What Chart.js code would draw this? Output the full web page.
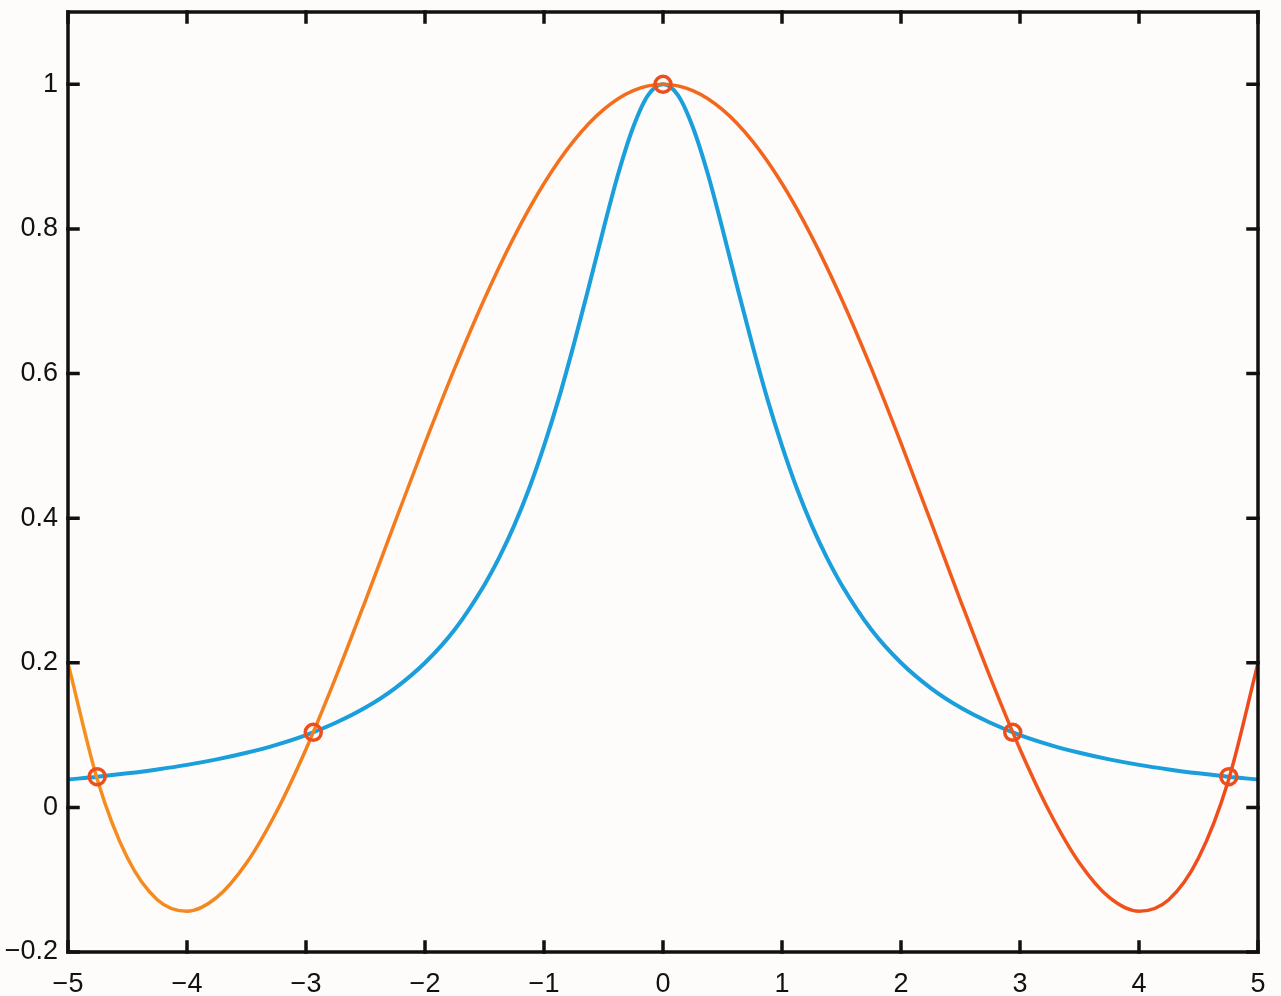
<!DOCTYPE html>
<html>
<head>
<meta charset="utf-8">
<script src="https://cdn.jsdelivr.net/npm/chart.js@4.4.1/dist/chart.umd.min.js"></script>
<style>
  html, body { margin: 0; padding: 0; background: #fdfcfa; }
  #wrap { width: 1281px; height: 996px; }
</style>
</head>
<body>
<div id="wrap"><canvas id="chart" width="1281" height="996"></canvas></div>
<script>
// sample positions along x for the orange curve
const xs = [-5, -4.75, -4.5, -4.25, -4, -3.75, -3.5, -3.25, -3, -2.75, -2.5, -2.25, -2, -1.75, -1.5, -1.25, -1, -0.75, -0.5, -0.25,
  0, 0.25, 0.5, 0.75, 1, 1.25, 1.5, 1.75, 2, 2.25, 2.5, 2.75, 3, 3.25, 3.5, 3.75, 4, 4.25, 4.5, 4.75, 5];

// orange curve
const orangeVals = [0.1995, 0.0365, -0.0701, -0.1277, -0.1437, -0.1246, -0.0770, -0.0067, 0.0805, 0.1797, 0.2861, 0.3954, 0.5037, 0.6074, 0.7035, 0.7894, 0.8628, 0.9217, 0.9649, 0.9912,
  1, 0.9912, 0.9649, 0.9217, 0.8628, 0.7894, 0.7035, 0.6074, 0.5037, 0.3954, 0.2861, 0.1797, 0.0805, -0.0067, -0.0770, -0.1246, -0.1437, -0.1277, -0.0701, 0.0365, 0.1995];

// blue curve, denser around the peak
const blueX = [-5, -4.75, -4.5, -4.25, -4, -3.75, -3.5, -3.25, -3, -2.75, -2.5, -2.25, -2, -1.75, -1.5, -1.375, -1.25, -1.125, -1, -0.875, -0.75, -0.625, -0.5, -0.375, -0.25, -0.125,
  0, 0.125, 0.25, 0.375, 0.5, 0.625, 0.75, 0.875, 1, 1.125, 1.25, 1.375, 1.5, 1.75, 2, 2.25, 2.5, 2.75, 3, 3.25, 3.5, 3.75, 4, 4.25, 4.5, 4.75, 5];
const blueVals = [0.0385, 0.0424, 0.0471, 0.0525, 0.0588, 0.0664, 0.0755, 0.0865, 0.1, 0.117, 0.138, 0.165, 0.2, 0.246, 0.308, 0.346, 0.390, 0.441, 0.5, 0.566, 0.64, 0.719, 0.8, 0.877, 0.941, 0.985,
  1, 0.985, 0.941, 0.877, 0.8, 0.719, 0.64, 0.566, 0.5, 0.441, 0.390, 0.346, 0.308, 0.246, 0.2, 0.165, 0.138, 0.117, 0.1, 0.0865, 0.0755, 0.0664, 0.0588, 0.0525, 0.0471, 0.0424, 0.0385];

// circled crossing points
const markX = [-4.755, -2.939, 0, 2.939, 4.755];
const markY = [0.0424, 0.1038, 1, 0.1038, 0.0424];

const xTicks = [-5, -4, -3, -2, -1, 0, 1, 2, 3, 4, 5];
const yTicks = [-0.2, 0, 0.2, 0.4, 0.6, 0.8, 1];

function fmt(v) {
  const s = String(Math.round(v * 10) / 10);
  return s.replace('-', '\u2212');
}

function orangeStroke(ctx) {
  const ca = ctx.chart.chartArea;
  if (!ca) return '#f07020';
  const g = ctx.chart.ctx.createLinearGradient(ca.left, 0, ca.right, 0);
  g.addColorStop(0, '#f5901f');
  g.addColorStop(0.5, '#f36a1c');
  g.addColorStop(1, '#ef4a1b');
  return g;
}

// box frame + inward ticks on all four sides
const framePlugin = {
  id: 'frame',
  afterDraw(chart) {
    const c = chart.ctx, a = chart.chartArea;
    const sx = chart.scales.x, sy = chart.scales.y;
    const len = 10;
    c.save();
    c.strokeStyle = '#111';
    c.lineWidth = 3.5;
    c.lineCap = 'square';
    c.strokeRect(a.left, a.top, a.right - a.left, a.bottom - a.top);
    c.beginPath();
    xTicks.forEach(function(v) {
      const px = sx.getPixelForValue(v);
      c.moveTo(px, a.bottom); c.lineTo(px, a.bottom - len);
      c.moveTo(px, a.top); c.lineTo(px, a.top + len);
    });
    yTicks.forEach(function(v) {
      const py = sy.getPixelForValue(v);
      c.moveTo(a.left, py); c.lineTo(a.left + len, py);
      c.moveTo(a.right, py); c.lineTo(a.right - len, py);
    });
    c.stroke();
    c.restore();
  }
};

const ctx = document.getElementById('chart').getContext('2d');
const chart = new Chart(ctx, {
  type: 'scatter',
  data: {
    datasets: [
      {
        label: 'nodes',
        data: markX.map(function(x, i) { return {x: x, y: markY[i]}; }),
        showLine: false,
        pointRadius: 8,
        pointBorderWidth: 3.5,
        pointBorderColor: '#ec4f1d',
        pointBackgroundColor: 'rgba(0,0,0,0)',
      },
      {
        label: 'orange',
        data: xs.map(function(x, i) { return {x: x, y: orangeVals[i]}; }),
        showLine: true,
        pointRadius: 0,
        borderWidth: 3.5,
        borderColor: orangeStroke,
        cubicInterpolationMode: 'monotone',
      },
      {
        label: 'blue',
        data: blueX.map(function(x, i) { return {x: x, y: blueVals[i]}; }),
        showLine: true,
        pointRadius: 0,
        borderWidth: 4,
        borderColor: '#1a9fdc',
        cubicInterpolationMode: 'monotone',
      },
    ],
  },
  options: {
    responsive: false,
    animation: false,
    layout: { padding: { left: 0, right: 23, top: 12, bottom: 0 } },
    plugins: { legend: { display: false }, tooltip: { enabled: false } },
    scales: {
      x: {
        type: 'linear',
        min: -5,
        max: 5,
        afterBuildTicks: function(s) { s.ticks = xTicks.map(function(v) { return {value: v}; }); },
        afterFit: function(s) { s.height = 44; s.paddingLeft = 0; s.paddingRight = 0; },
        grid: { display: false },
        border: { display: false },
        ticks: {
          color: '#111',
          font: { family: '"Liberation Sans", Arial, sans-serif', size: 27 },
          padding: 8,
          maxRotation: 0,
          callback: function(v) { return fmt(v); },
        },
      },
      y: {
        type: 'linear',
        min: -0.2,
        max: 1.1,
        afterBuildTicks: function(s) { s.ticks = yTicks.map(function(v) { return {value: v}; }); },
        afterFit: function(s) { s.width = 68; s.paddingTop = 0; s.paddingBottom = 0; },
        grid: { display: false },
        border: { display: false },
        ticks: {
          color: '#111',
          font: { family: '"Liberation Sans", Arial, sans-serif', size: 27 },
          padding: 2,
          callback: function(v) { return fmt(v); },
        },
      },
    },
  },
  plugins: [framePlugin],
});
</script>
</body>
</html>
